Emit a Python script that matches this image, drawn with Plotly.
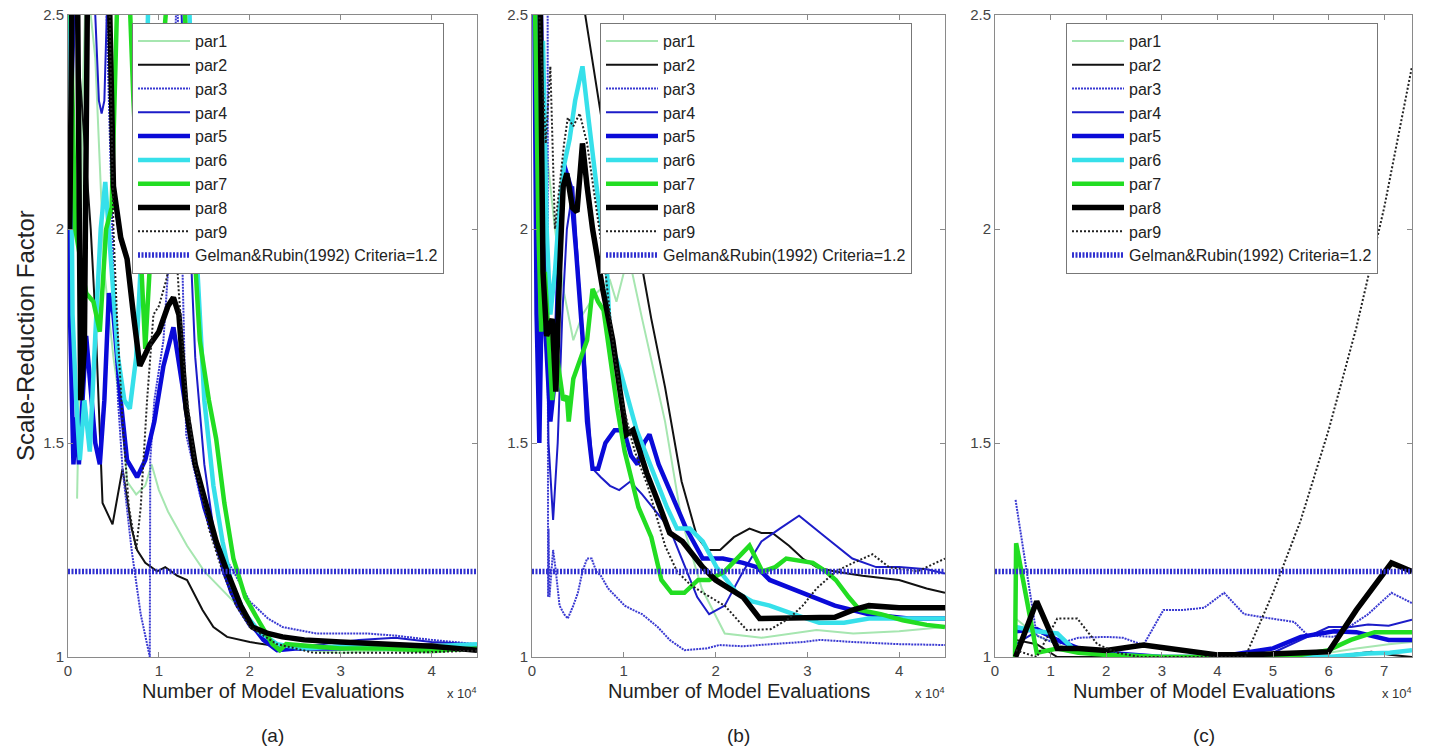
import plotly.graph_objects as go

# ---------------- data (x in units of 10^4 model evaluations) ----------------
# Panel (a)
a_par1_x = [0.1, 0.12, 0.16, 0.2, 0.3, 0.4, 0.5, 0.6, 0.65, 0.75, 0.85, 0.92, 1.0, 1.1, 1.31, 1.5, 1.82, 2.0, 2.18, 2.4, 3.0, 3.5, 4.0, 4.5]
a_par1_y = [1.37, 1.6, 2.3, 2.6, 2.4, 1.9, 1.7, 1.55, 1.41, 1.38, 1.4, 1.45, 1.39, 1.34, 1.26, 1.2, 1.13, 1.08, 1.04, 1.02, 1.01, 1.015, 1.01, 1.02]
a_par2_x = [0.05, 0.15, 0.25, 0.3, 0.35, 0.38, 0.49, 0.6, 0.7, 0.76, 0.85, 0.98, 1.07, 1.2, 1.31, 1.48, 1.6, 1.75, 2.0, 2.3, 2.6, 3.0, 3.5, 4.0, 4.5]
a_par2_y = [2.6, 2.3, 2.0, 1.8, 1.52, 1.36, 1.31, 1.44, 1.3, 1.25, 1.22, 1.2, 1.21, 1.19, 1.18, 1.11, 1.07, 1.047, 1.035, 1.025, 1.02, 1.02, 1.025, 1.03, 1.025]
a_par3_x = [0.0, 0.4, 0.45, 0.5, 0.55, 0.6, 0.7, 0.8, 0.9, 0.905, 0.95, 1.05, 1.1, 1.15, 1.2, 1.25, 1.3, 1.45, 1.6, 1.82, 2.0, 2.2, 2.36, 2.73, 3.28, 3.6, 4.0, 4.5]
a_par3_y = [2.7, 2.7, 2.3, 1.9, 1.6, 1.44, 1.25, 1.1, 1.0, 1.46, 1.6, 1.74, 1.9, 2.2, 2.6, 2.0, 1.52, 1.38, 1.28, 1.2, 1.13, 1.09, 1.07, 1.055, 1.055, 1.05, 1.04, 1.03]
a_par4_x = [0.0, 0.05, 0.1, 0.25, 0.3, 0.34, 0.37, 0.4, 0.44, 0.5, 1.2, 1.3, 1.4, 1.5, 1.6, 1.7, 1.85, 2.0, 2.2, 2.4, 2.8, 3.2, 3.6, 4.0, 4.5]
a_par4_y = [1.9, 2.3, 2.7, 2.7, 2.5, 2.3, 2.27, 2.3, 2.6, 2.8, 2.8, 2.2, 1.7, 1.45, 1.3, 1.2, 1.12, 1.07, 1.04, 1.02, 1.03, 1.04, 1.045, 1.035, 1.03]
a_par5_x = [0.0, 0.03, 0.06, 0.09, 0.12, 0.16, 0.2, 0.24, 0.3, 0.35, 0.4, 0.45, 0.5, 0.58, 0.65, 0.76, 0.85, 0.95, 1.05, 1.16, 1.25, 1.37, 1.5, 1.67, 1.8, 1.97, 2.15, 2.3, 2.5, 3.0, 3.5, 4.0, 4.5]
a_par5_y = [2.0, 1.7, 1.45, 1.56, 1.45, 1.6, 1.75, 1.65, 1.5, 1.45, 1.6, 1.85, 1.8, 1.6, 1.46, 1.42, 1.46, 1.55, 1.68, 1.77, 1.65, 1.48, 1.35, 1.24, 1.15, 1.09, 1.04, 1.016, 1.02, 1.02, 1.025, 1.02, 1.025]
a_par6_x = [0.02, 0.05, 0.09, 0.13, 0.18, 0.24, 0.3, 0.36, 0.41, 0.48, 0.55, 0.62, 0.68, 0.75, 0.82, 0.88, 0.95, 1.3, 1.4, 1.5, 1.6, 1.7, 1.8, 1.95, 2.1, 2.3, 2.6, 3.0, 3.5, 4.0, 4.5]
a_par6_y = [2.6, 1.8, 1.6, 1.46, 1.6, 1.48, 1.75, 2.0, 2.11, 1.9, 1.7, 1.6, 1.58, 1.7, 2.0, 2.5, 2.8, 2.8, 2.0, 1.6, 1.4, 1.27, 1.17, 1.1, 1.06, 1.03, 1.02, 1.025, 1.02, 1.025, 1.03]
a_par7_x = [0.02, 0.08, 0.12, 0.2, 0.28, 0.35, 0.42, 0.48, 0.55, 0.65, 0.72, 0.79, 0.85, 1.0, 1.15, 1.27, 1.38, 1.45, 1.55, 1.63, 1.72, 1.82, 1.95, 2.11, 2.25, 2.33, 2.4, 3.0, 3.5, 4.0, 4.5]
a_par7_y = [2.6, 2.0, 1.95, 1.85, 1.83, 1.76, 2.0, 2.05, 2.6, 2.7, 2.3, 1.99, 1.72, 2.3, 2.7, 2.6, 1.99, 1.74, 1.6, 1.51, 1.36, 1.23, 1.14, 1.08, 1.03, 1.016, 1.03, 1.02, 1.02, 1.015, 1.02]
a_par8_x = [0.02, 0.05, 0.1, 0.14, 0.18, 0.22, 0.3, 0.42, 0.46, 0.5, 0.58, 0.65, 0.72, 0.79, 0.9, 1.0, 1.1, 1.16, 1.22, 1.3, 1.4, 1.52, 1.63, 1.75, 1.9, 2.03, 2.2, 2.36, 2.6, 3.0, 3.5, 4.0, 4.5]
a_par8_y = [2.0, 2.7, 2.7, 1.6, 1.72, 2.7, 2.8, 2.7, 2.5, 2.1, 1.98, 1.93, 1.8, 1.68, 1.73, 1.76, 1.82, 1.84, 1.8, 1.58, 1.45, 1.35, 1.27, 1.2, 1.12, 1.07, 1.055, 1.047, 1.04, 1.035, 1.03, 1.025, 1.016]
a_par9_x = [0.0, 0.3, 0.45, 0.5, 0.54, 0.6, 0.67, 0.75, 0.8, 0.87, 0.94, 1.0, 1.08, 1.15, 1.18, 1.22, 1.3, 1.4, 1.55, 1.7, 1.85, 2.0, 2.3, 2.7, 3.2, 3.8, 4.5]
a_par9_y = [2.7, 2.7, 2.6, 2.0, 1.79, 1.55, 1.35, 1.25, 1.35, 1.6, 1.8, 1.82, 1.88, 1.95, 1.99, 1.85, 1.62, 1.45, 1.3, 1.2, 1.12, 1.07, 1.03, 1.01, 1.01, 1.01, 1.015]

# Panel (b)
b_par1_x = [0.05, 0.15, 0.25, 0.35, 0.45, 0.55, 0.7, 0.85, 0.92, 1.05, 1.2, 1.45, 1.63, 1.85, 2.1, 2.5, 3.1, 3.5, 4.0, 4.5]
b_par1_y = [2.6, 2.2, 2.0, 1.85, 1.74, 1.8, 1.85, 1.88, 1.83, 1.94, 1.79, 1.55, 1.32, 1.16, 1.055, 1.045, 1.063, 1.055, 1.06, 1.07]
b_par2_x = [0.02, 0.55, 0.58, 0.8, 0.95, 1.05, 1.2, 1.3, 1.45, 1.63, 1.8, 1.91, 2.05, 2.2, 2.37, 2.5, 2.62, 2.8, 2.95, 3.1, 3.3, 3.6, 4.0, 4.3, 4.5]
b_par2_y = [2.7, 2.7, 2.5, 2.2, 2.05, 1.99, 1.91, 1.79, 1.63, 1.41, 1.28, 1.25, 1.25, 1.28, 1.3, 1.29, 1.29, 1.26, 1.23, 1.21, 1.2, 1.19, 1.18, 1.16, 1.15]
b_par3_x = [0.0, 0.17, 0.175, 0.18, 0.19, 0.21, 0.23, 0.26, 0.3, 0.35, 0.39, 0.45, 0.5, 0.55, 0.6, 0.65, 0.7, 0.75, 0.83, 0.92, 1.01, 1.1, 1.2, 1.37, 1.5, 1.66, 1.9, 2.04, 2.3, 2.6, 2.95, 3.14, 3.5, 4.0, 4.5]
b_par3_y = [2.7, 2.7, 1.14, 1.3, 1.14, 1.2, 1.25, 1.2, 1.12, 1.1, 1.09, 1.12, 1.15, 1.2, 1.23, 1.23, 1.2, 1.19, 1.16, 1.14, 1.12, 1.11, 1.1, 1.07, 1.04, 1.016, 1.02, 1.028, 1.025, 1.03, 1.035, 1.04, 1.035, 1.03, 1.028]
b_par4_x = [0.02, 0.1, 0.14, 0.18, 0.23, 0.28, 0.33, 0.38, 0.45, 0.52, 0.6, 0.66, 0.75, 0.85, 0.95, 1.07, 1.2, 1.35, 1.5, 1.65, 1.8, 1.93, 2.1, 2.3, 2.5, 2.7, 2.91, 3.2, 3.49, 3.75, 4.0, 4.3, 4.5]
b_par4_y = [2.7, 2.7, 2.1, 1.5, 1.32, 1.5, 1.8, 2.0, 2.1, 1.85, 1.62, 1.44, 1.42, 1.4, 1.39, 1.41, 1.38, 1.34, 1.3, 1.22, 1.14, 1.1, 1.12, 1.2, 1.27, 1.3, 1.33, 1.28, 1.23, 1.21, 1.21, 1.205, 1.195]
b_par5_x = [0.02, 0.05, 0.08, 0.11, 0.15, 0.2, 0.25, 0.3, 0.35, 0.42, 0.48, 0.55, 0.6, 0.66, 0.72, 0.8, 0.9, 1.0, 1.08, 1.15, 1.22, 1.28, 1.38, 1.5, 1.68, 1.86, 2.08, 2.3, 2.45, 2.59, 2.95, 3.3, 3.67, 4.1, 4.5]
b_par5_y = [2.7, 1.8, 1.5, 1.9, 1.75, 1.55, 1.65, 2.0, 2.15, 2.1, 1.95, 1.75, 1.55, 1.44, 1.44, 1.5, 1.53, 1.53, 1.47, 1.45, 1.5, 1.52, 1.45, 1.39, 1.3, 1.23, 1.23, 1.22, 1.21, 1.18, 1.15, 1.12, 1.1, 1.09, 1.09]
b_par6_x = [0.02, 0.06, 0.1, 0.12, 0.16, 0.2, 0.25, 0.3, 0.35, 0.41, 0.47, 0.55, 0.62, 0.7, 0.82, 0.85, 0.96, 1.05, 1.14, 1.25, 1.36, 1.47, 1.58, 1.72, 1.86, 2.01, 2.12, 2.23, 2.4, 2.59, 2.85, 3.13, 3.4, 3.67, 4.0, 4.5]
b_par6_y = [2.7, 2.5, 2.2, 2.44, 2.0, 1.8, 1.9, 2.05, 2.15, 2.21, 2.3, 2.38, 2.25, 2.1, 1.89, 1.74, 1.67, 1.6, 1.53, 1.47, 1.41, 1.35, 1.3, 1.3, 1.27, 1.21, 1.18, 1.15, 1.13, 1.12, 1.1, 1.08, 1.08, 1.09, 1.09, 1.09]
b_par7_x = [0.02, 0.04, 0.07, 0.1, 0.14, 0.18, 0.22, 0.26, 0.3, 0.34, 0.38, 0.4, 0.45, 0.5, 0.55, 0.6, 0.66, 0.72, 0.78, 0.85, 0.93, 1.01, 1.16, 1.3, 1.41, 1.52, 1.66, 1.81, 1.93, 2.1, 2.23, 2.37, 2.51, 2.65, 2.77, 3.06, 3.2, 3.31, 3.45, 3.57, 3.8, 4.04, 4.3, 4.5]
b_par7_y = [2.7, 2.4, 2.0, 1.76, 1.9, 1.75, 1.6, 1.72, 1.65, 1.6, 1.61, 1.55, 1.65, 1.68, 1.71, 1.74, 1.86, 1.83, 1.81, 1.7, 1.58, 1.48, 1.35, 1.28, 1.18, 1.15, 1.15, 1.18, 1.18, 1.2, 1.23, 1.26, 1.2, 1.21, 1.23, 1.22, 1.2, 1.18, 1.14, 1.11, 1.1, 1.086, 1.075, 1.07]
b_par8_x = [0.02, 0.08, 0.12, 0.16, 0.22, 0.26, 0.3, 0.34, 0.38, 0.44, 0.49, 0.55, 0.6, 0.66, 0.77, 0.88, 0.96, 1.03, 1.1, 1.17, 1.25, 1.36, 1.5, 1.64, 1.75, 1.86, 2.0, 2.15, 2.3, 2.48, 2.7, 2.95, 3.3, 3.5, 3.67, 4.0, 4.5]
b_par8_y = [2.7, 2.7, 1.9, 1.75, 1.79, 1.62, 1.9, 2.1, 2.13, 2.05, 2.04, 2.2, 2.1, 2.0, 1.86, 1.74, 1.62, 1.52, 1.53, 1.48, 1.43, 1.37, 1.29, 1.27, 1.24, 1.21, 1.18, 1.16, 1.14, 1.09, 1.09, 1.09, 1.093, 1.11, 1.12, 1.115, 1.115]
b_par9_x = [0.02, 0.08, 0.15, 0.2, 0.25, 0.3, 0.35, 0.39, 0.45, 0.52, 0.6, 0.7, 0.8, 0.9, 1.0, 1.12, 1.26, 1.45, 1.58, 1.72, 1.86, 2.1, 2.34, 2.6, 2.8, 2.95, 3.1, 3.31, 3.5, 3.71, 3.89, 4.2, 4.5]
b_par9_y = [2.7, 2.5, 2.2, 2.38, 2.0, 2.1, 2.2, 2.26, 2.24, 2.27, 2.2, 2.05, 1.9, 1.7, 1.58, 1.48, 1.4, 1.26, 1.2, 1.17, 1.15, 1.12, 1.063, 1.065, 1.09, 1.12, 1.16, 1.2, 1.22, 1.24, 1.21, 1.2, 1.23]

# Panel (c)
c_par1_x = [0.37, 0.75, 1.12, 1.5, 2.0, 3.0, 4.0, 5.0, 6.0, 6.5, 7.08, 7.5]
c_par1_y = [1.09, 1.05, 1.03, 1.01, 1.005, 1.0, 1.0, 1.005, 1.01, 1.02, 1.03, 1.035]
c_par2_x = [0.37, 0.75, 1.12, 2.0, 3.0, 4.0, 5.0, 6.0, 6.77, 7.1, 7.5]
c_par2_y = [1.04, 1.03, 1.0, 1.0, 1.0, 1.0, 1.0, 1.0, 1.012, 1.005, 1.0]
c_par3_x = [0.37, 0.75, 1.12, 1.5, 2.0, 2.3, 2.67, 3.03, 3.39, 3.76, 4.12, 4.48, 4.96, 5.38, 5.63, 6.1, 6.71, 7.13, 7.5]
c_par3_y = [1.367, 1.05, 1.03, 1.045, 1.047, 1.045, 1.028, 1.11, 1.11, 1.115, 1.15, 1.1, 1.09, 1.082, 1.05, 1.047, 1.1, 1.15, 1.126]
c_par4_x = [0.37, 0.75, 1.12, 1.5, 2.0, 3.0, 4.0, 4.5, 5.0, 5.5, 6.0, 6.4, 6.71, 7.08, 7.5]
c_par4_y = [1.03, 1.06, 1.04, 1.02, 1.01, 1.0, 1.0, 1.0, 1.01, 1.04, 1.07, 1.07, 1.076, 1.073, 1.087]
c_par5_x = [0.37, 0.75, 1.12, 1.5, 2.0, 3.0, 4.0, 5.0, 5.5, 6.1, 6.5, 7.08, 7.5]
c_par5_y = [1.06, 1.065, 1.04, 1.02, 1.01, 1.0, 1.0, 1.02, 1.047, 1.06, 1.058, 1.04, 1.04]
c_par6_x = [0.37, 0.75, 1.12, 1.4, 2.0, 3.0, 4.0, 5.0, 6.0, 6.7, 7.1, 7.5]
c_par6_y = [1.07, 1.06, 1.055, 1.02, 1.005, 1.0, 1.0, 1.0, 1.0, 1.008, 1.01, 1.016]
c_par7_x = [0.36, 0.38, 0.75, 1.12, 1.5, 2.0, 3.0, 4.0, 5.0, 5.5, 6.0, 6.4, 6.83, 7.5]
c_par7_y = [1.0, 1.266, 1.01, 1.02, 1.01, 1.005, 1.0, 1.0, 1.0, 1.005, 1.016, 1.04, 1.058, 1.058]
c_par8_x = [0.37, 0.75, 1.12, 1.5, 2.0, 2.67, 3.0, 3.5, 4.0, 4.5, 5.0, 5.5, 6.0, 6.5, 7.13, 7.5]
c_par8_y = [1.0, 1.13, 1.02, 1.02, 1.015, 1.028, 1.022, 1.015, 1.005, 1.005, 1.008, 1.01, 1.012, 1.11, 1.22, 1.2]
c_par9_x = [0.37, 0.75, 1.12, 1.48, 1.84, 2.2, 2.6, 3.0, 3.5, 4.0, 4.5, 5.0, 5.5, 6.0, 6.5, 7.0, 7.5]
c_par9_y = [1.016, 1.0, 1.09, 1.09, 1.03, 1.01, 1.0, 1.0, 1.0, 1.0, 1.0, 1.15, 1.32, 1.53, 1.77, 2.05, 2.38]

criteria = 1.2
x_max = [4.5, 4.5, 7.5]
panel_labels = ["(a)", "(b)", "(c)"]
series_names = ["par1", "par2", "par3", "par4", "par5", "par6", "par7", "par8", "par9"]
gelman_name = "Gelman&Rubin(1992) Criteria=1.2"
y_ticks = [1, 1.5, 2, 2.5]
y_tick_text = ["1", "1.5", "2", "2.5"]

panels = [
    [(a_par1_x, a_par1_y), (a_par2_x, a_par2_y), (a_par3_x, a_par3_y), (a_par4_x, a_par4_y), (a_par5_x, a_par5_y),
     (a_par6_x, a_par6_y), (a_par7_x, a_par7_y), (a_par8_x, a_par8_y), (a_par9_x, a_par9_y)],
    [(b_par1_x, b_par1_y), (b_par2_x, b_par2_y), (b_par3_x, b_par3_y), (b_par4_x, b_par4_y), (b_par5_x, b_par5_y),
     (b_par6_x, b_par6_y), (b_par7_x, b_par7_y), (b_par8_x, b_par8_y), (b_par9_x, b_par9_y)],
    [(c_par1_x, c_par1_y), (c_par2_x, c_par2_y), (c_par3_x, c_par3_y), (c_par4_x, c_par4_y), (c_par5_x, c_par5_y),
     (c_par6_x, c_par6_y), (c_par7_x, c_par7_y), (c_par8_x, c_par8_y), (c_par9_x, c_par9_y)],
]

# ---------------- styles ----------------
colors = ["#a6e6b0", "#111111", "#3a3ad2", "#1c1cc8", "#0a0ad8", "#36e0ea", "#22dd22", "#000000", "#222222"]
widths = [2, 2, 2, 2, 4.5, 4.5, 4.5, 5.5, 2]
dashes = ["solid", "solid", "2px,1px", "solid", "solid", "solid", "solid", "solid", "2px,2px"]
gelman_color = "#3030d0"
FONT = "Liberation Sans, Arial, sans-serif"

W, H = 1429, 747
x_dom_px = [(68, 477), (532, 945), (995, 1412)]
y_top_px, y_bot_px = 15, 657
legend_px = [(132, 23), (600, 23), (1066, 23)]

fig = go.Figure()
legend_keys = ["legend", "legend2", "legend3"]
for p in range(3):
    xa = "x" if p == 0 else f"x{p+1}"
    ya = "y" if p == 0 else f"y{p+1}"
    for i, (xs, ys) in enumerate(panels[p]):
        fig.add_trace(go.Scatter(
            x=xs, y=ys, mode="lines", name=series_names[i],
            line=dict(color=colors[i], width=widths[i], dash=dashes[i]),
            xaxis=xa, yaxis=ya, legend=legend_keys[p], hoverinfo="skip"))
    fig.add_trace(go.Scatter(
        x=[0, x_max[p]], y=[criteria, criteria], mode="lines", name=gelman_name,
        line=dict(color=gelman_color, width=5.5, dash="2px,1.5px"),
        xaxis=xa, yaxis=ya, legend=legend_keys[p], hoverinfo="skip"))

layout = dict(
    template="none",
    width=W, height=H, margin=dict(l=0, r=0, t=0, b=0, autoexpand=False),
    paper_bgcolor="white", plot_bgcolor="white",
    font=dict(family=FONT, color="#333333", size=16),
    showlegend=True,
)
axis_common = dict(showgrid=False, zeroline=False, showline=True, linecolor="#8a8a8a", linewidth=1,
                   mirror="ticks", ticks="inside", ticklen=5, tickcolor="#8a8a8a", automargin=False,
                   tickfont=dict(size=15, color="#444444", family=FONT))
for p in range(3):
    sx = "xaxis" if p == 0 else f"xaxis{p+1}"
    sy = "yaxis" if p == 0 else f"yaxis{p+1}"
    l, r = x_dom_px[p]
    xa = "x" if p == 0 else f"x{p+1}"
    ya = "y" if p == 0 else f"y{p+1}"
    layout[sx] = dict(domain=[l / W, r / W], range=[0, x_max[p]], dtick=1, tick0=0, anchor=ya, **axis_common)
    layout[sy] = dict(domain=[1 - y_bot_px / H, 1 - y_top_px / H], range=[1, 2.5], tickvals=y_ticks,
                      ticktext=y_tick_text, anchor=xa, **axis_common)
    lx, ly = legend_px[p]
    layout[legend_keys[p]] = dict(x=lx / W, y=1 - ly / H, xanchor="left", yanchor="top",
                                  bgcolor="white", bordercolor="#777777", borderwidth=1,
                                  font=dict(size=16, color="#222222", family=FONT),
                                  itemwidth=52, tracegroupgap=0)
fig.update_layout(**layout)

annotations = []
for p in range(3):
    l, r = x_dom_px[p]
    annotations.append(dict(text="Number of Model Evaluations", x=(l + r) / 2 / W, y=1 - 691 / H,
                            xanchor="center", yanchor="middle",
                            xref="paper", yref="paper", showarrow=False,
                            font=dict(size=20, color="#222222", family=FONT)))
    annotations.append(dict(text="x 10<sup>4</sup>", x=(r + 2) / W, y=1 - 693 / H,
                            xanchor="right", yanchor="middle",
                            xref="paper", yref="paper", showarrow=False,
                            font=dict(size=13, color="#333333", family=FONT)))
    annotations.append(dict(text=panel_labels[p], x=(l + r) / 2 / W, y=1 - 735 / H,
                            xanchor="center", yanchor="middle",
                            xref="paper", yref="paper", showarrow=False,
                            font=dict(size=19, color="#222222", family=FONT)))
annotations.append(dict(text="Scale-Reduction Factor", x=25 / W, y=1 - 336 / H, textangle=-90,
                        xanchor="center", yanchor="middle",
                        xref="paper", yref="paper", showarrow=False,
                        font=dict(size=24, color="#222222", family=FONT)))
fig.update_layout(annotations=annotations)

fig.write_html("out.html")
